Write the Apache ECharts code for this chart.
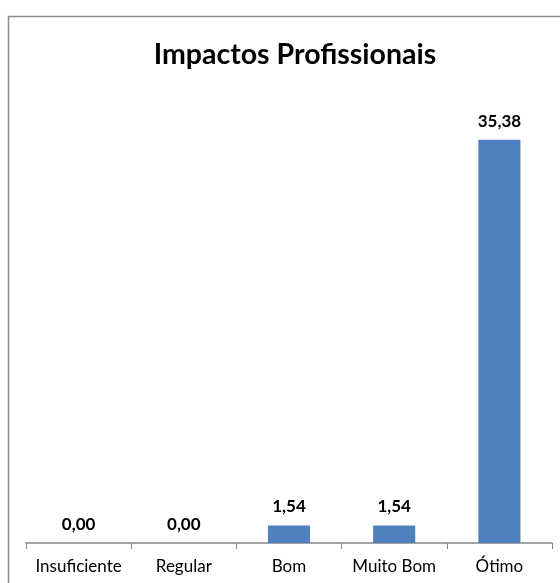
<!DOCTYPE html>
<html>
<head>
<meta charset="utf-8">
<style>
  html, body { margin: 0; padding: 0; background: #fff; }
  #chart { width: 560px; height: 583px; }
</style>
<script src="https://cdn.jsdelivr.net/npm/echarts@6/dist/echarts.min.js"></script>
</head>
<body>
<div id="chart"></div>
<script>
const categories = ['Insuficiente', 'Regular', 'Bom', 'Muito Bom', 'Ótimo'];
const values = [0.00, 0.00, 1.54, 1.54, 35.38];
const chartTitle = 'Impactos Profissionais';

const fontFamily = 'Lato, "Open Sans", sans-serif';
const fmt = v => v.toFixed(2).replace('.', ',');

const chart = echarts.init(document.getElementById('chart'), null, { renderer: 'canvas' });
chart.setOption({
  animation: false,
  backgroundColor: '#ffffff',
  title: {
    text: chartTitle,
    left: 290,
    top: 35,
    textAlign: 'center',
    textStyle: { fontFamily, fontSize: 28.5, fontWeight: 'bold', color: '#000' }
  },
  graphic: [{
    type: 'rect',
    shape: { x: 8.5, y: 16.5, width: 570, height: 580 },
    style: { fill: 'none', stroke: '#8c8c8c', lineWidth: 1.5 },
    silent: true
  }],
  grid: { left: 26, right: 8, top: 87, bottom: 40 },
  xAxis: {
    type: 'category',
    data: categories,
    axisLine: { lineStyle: { color: '#878787', width: 1.5 } },
    axisTick: { show: true, interval: 0, length: 6, lineStyle: { color: '#878787' } },
    axisLabel: { interval: 0, fontFamily, fontSize: 17, color: '#000', margin: 15 }
  },
  yAxis: {
    type: 'value',
    min: 0,
    max: 40,
    show: false,
    splitLine: { show: false }
  },
  series: [{
    type: 'bar',
    data: values,
    barWidth: '40%',
    itemStyle: { color: '#4F81BD' },
    label: {
      show: true,
      position: 'top',
      distance: 10,
      formatter: p => fmt(p.value),
      fontFamily,
      fontSize: 17,
      fontWeight: 'bold',
      color: '#000'
    }
  }]
});
</script>
</body>
</html>
